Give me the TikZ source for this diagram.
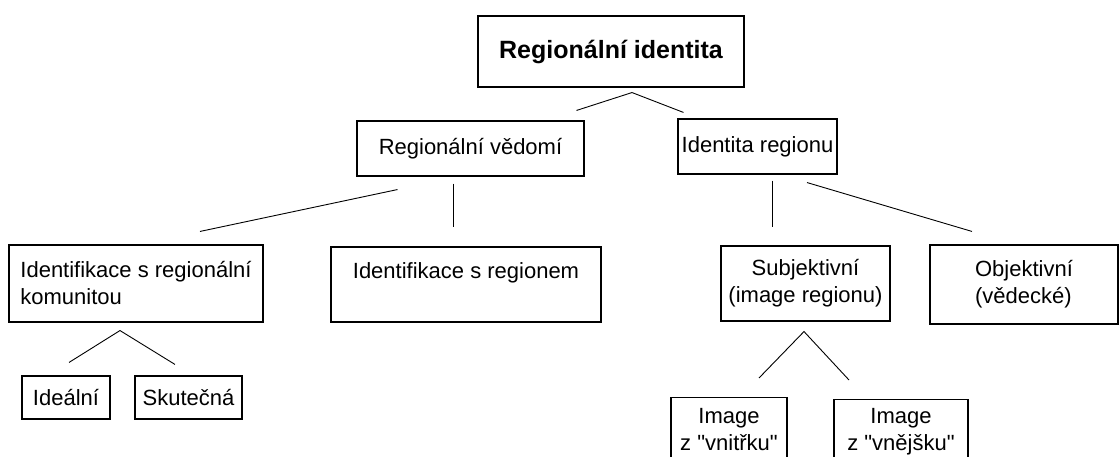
\documentclass[tikz,border=0pt]{standalone}
\usepackage{fontspec}
\setmainfont{Liberation Sans}[Ligatures=TeXOff]

\begin{document}
\begin{tikzpicture}[x=1pt,y=-1pt,
    box/.style={draw,line width=1.1pt,inner sep=0pt,font=\fontsize{22}{27}\selectfont},
    link/.style={line width=0.9pt}]
        \useasboundingbox (0,0) rectangle (1120,457);
        \clip (0,0) rectangle (1120,457);
        \draw
        (611,51.5) node[box,minimum width=266,minimum height=71,font=\fontsize{25}{27}\selectfont\bfseries] (top){Regionální identita}
        (470.5,148.5) node[box,minimum width=227,minimum height=55] (vedomi){Regionální vědomí}
        (757.5,146.5) node[box,minimum width=159,minimum height=55] (identita){Identita regionu}
        (136,283.5) node[box,minimum width=254,minimum height=77,align=left] (komunita){Identifikace s regionální\\komunitou}
        (466,284.5) node[box,minimum width=270,minimum height=75,align=left] (regionem){Identifikace s regionem\\ }
        (805.5,283.5) node[box,minimum width=169,minimum height=75,align=center] (subj){Subjektivní\\(image regionu)}
        (1024,284.5) node[box,minimum width=188,minimum height=79,align=left] (obj){Objektivní\\(vědecké)}
        (66,397.5) node[box,minimum width=88,minimum height=43] (idealni){Ideální}
        (188.5,397.5) node[box,minimum width=107,minimum height=43] (skutecna){Skutečná}
        (729,397) node[box,anchor=north,minimum width=116,minimum height=64,align=center] (vnitrek){Image\\z "vnitřku"}
        (901,399) node[box,anchor=north,minimum width=134,minimum height=64,align=center] (vnejsek){Image\\z "vnějšku"};
      \begin{scope}[link]
        \draw ([shift={(106,-10)}]vedomi.north) -- ([shift={(21,5)}]top.south) -- ([shift={(-74,-6)}]identita.north);
        \draw ([shift={(-73,13)}]vedomi.south) -- ([shift={(64,-13)}]komunita.north);
        \draw ([shift={(-17.5,7)}]vedomi.south) -- ([shift={(-13,-19)}]regionem.north);
        \draw ([shift={(14.5,6)}]identita.south) -- ([shift={(-33.5,-18)}]subj.north);
        \draw ([shift={(49.5,8)}]identita.south) -- ([shift={(-52,-13)}]obj.north);
        \draw ([shift={(3,-13)}]idealni.north) -- ([shift={(-16,8)}]komunita.south) -- ([shift={(-13.5,-11)}]skutecna.north);
        \draw ([shift={(30,-19)}]vnitrek.north) -- ([shift={(-1.5,10)}]subj.south) -- ([shift={(-52,-19)}]vnejsek.north);
      \end{scope}

    \end{tikzpicture}
\end{document}
